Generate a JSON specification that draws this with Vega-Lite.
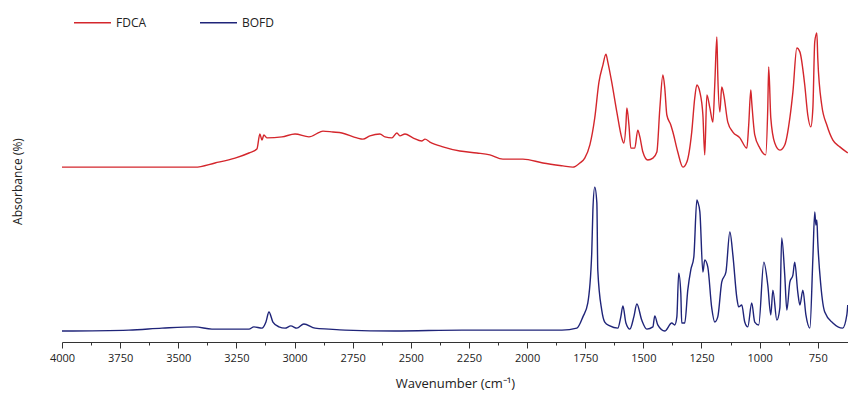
{
  "$schema": "https://vega.github.io/schema/vega-lite/v6.json",
  "autosize": "none",
  "width": 786,
  "height": 322,
  "padding": {"left": 62, "top": 20, "right": 0, "bottom": 53},
  "background": "white",
  "config": {
    "view": {"stroke": null},
    "font": "Open Sans",
    "axis": {"labelFont": "Open Sans", "titleFont": "Open Sans", "titleFontWeight": "normal", "labelColor": "#222", "titleColor": "#222", "domainColor": "#333", "tickColor": "#333", "grid": false},
    "legend": {"labelFont": "Open Sans"}
  },
  "data": {
    "values": [
      {"series": "FDCA", "wn": 4000, "a": 54.3},
      {"series": "FDCA", "wn": 3695, "a": 54.3},
      {"series": "FDCA", "wn": 3428, "a": 54.3},
      {"series": "FDCA", "wn": 3342, "a": 55.6},
      {"series": "FDCA", "wn": 3256, "a": 57.1},
      {"series": "FDCA", "wn": 3196, "a": 58.7},
      {"series": "FDCA", "wn": 3162, "a": 59.9},
      {"series": "FDCA", "wn": 3149, "a": 64.6},
      {"series": "FDCA", "wn": 3140, "a": 62.7},
      {"series": "FDCA", "wn": 3132, "a": 64.3},
      {"series": "FDCA", "wn": 3119, "a": 63.4},
      {"series": "FDCA", "wn": 3054, "a": 63.7},
      {"series": "FDCA", "wn": 2998, "a": 64.6},
      {"series": "FDCA", "wn": 2938, "a": 63.7},
      {"series": "FDCA", "wn": 2891, "a": 65.2},
      {"series": "FDCA", "wn": 2878, "a": 65.5},
      {"series": "FDCA", "wn": 2835, "a": 65.2},
      {"series": "FDCA", "wn": 2796, "a": 64.9},
      {"series": "FDCA", "wn": 2732, "a": 63.4},
      {"series": "FDCA", "wn": 2706, "a": 63.0},
      {"series": "FDCA", "wn": 2676, "a": 64.0},
      {"series": "FDCA", "wn": 2633, "a": 64.6},
      {"series": "FDCA", "wn": 2611, "a": 63.7},
      {"series": "FDCA", "wn": 2581, "a": 63.4},
      {"series": "FDCA", "wn": 2560, "a": 64.9},
      {"series": "FDCA", "wn": 2547, "a": 64.0},
      {"series": "FDCA", "wn": 2525, "a": 64.6},
      {"series": "FDCA", "wn": 2491, "a": 63.4},
      {"series": "FDCA", "wn": 2452, "a": 62.4},
      {"series": "FDCA", "wn": 2439, "a": 63.0},
      {"series": "FDCA", "wn": 2418, "a": 62.1},
      {"series": "FDCA", "wn": 2362, "a": 60.6},
      {"series": "FDCA", "wn": 2289, "a": 59.3},
      {"series": "FDCA", "wn": 2216, "a": 58.7},
      {"series": "FDCA", "wn": 2160, "a": 58.1},
      {"series": "FDCA", "wn": 2104, "a": 56.8},
      {"series": "FDCA", "wn": 2018, "a": 56.8},
      {"series": "FDCA", "wn": 1932, "a": 55.6},
      {"series": "FDCA", "wn": 1846, "a": 54.7},
      {"series": "FDCA", "wn": 1803, "a": 54.3},
      {"series": "FDCA", "wn": 1773, "a": 55.6},
      {"series": "FDCA", "wn": 1752, "a": 57.1},
      {"series": "FDCA", "wn": 1730, "a": 61.2},
      {"series": "FDCA", "wn": 1709, "a": 69.6},
      {"series": "FDCA", "wn": 1691, "a": 80.7},
      {"series": "FDCA", "wn": 1674, "a": 86.0},
      {"series": "FDCA", "wn": 1661, "a": 89.4},
      {"series": "FDCA", "wn": 1653, "a": 87.0},
      {"series": "FDCA", "wn": 1636, "a": 80.7},
      {"series": "FDCA", "wn": 1614, "a": 71.4},
      {"series": "FDCA", "wn": 1593, "a": 63.4},
      {"series": "FDCA", "wn": 1584, "a": 61.8},
      {"series": "FDCA", "wn": 1575, "a": 67.4},
      {"series": "FDCA", "wn": 1571, "a": 72.7},
      {"series": "FDCA", "wn": 1562, "a": 67.4},
      {"series": "FDCA", "wn": 1554, "a": 60.2},
      {"series": "FDCA", "wn": 1537, "a": 60.2},
      {"series": "FDCA", "wn": 1524, "a": 65.8},
      {"series": "FDCA", "wn": 1515, "a": 63.7},
      {"series": "FDCA", "wn": 1502, "a": 59.0},
      {"series": "FDCA", "wn": 1481, "a": 56.5},
      {"series": "FDCA", "wn": 1459, "a": 57.1},
      {"series": "FDCA", "wn": 1442, "a": 59.0},
      {"series": "FDCA", "wn": 1429, "a": 72.7},
      {"series": "FDCA", "wn": 1416, "a": 82.9},
      {"series": "FDCA", "wn": 1408, "a": 78.9},
      {"series": "FDCA", "wn": 1399, "a": 70.5},
      {"series": "FDCA", "wn": 1382, "a": 67.4},
      {"series": "FDCA", "wn": 1373, "a": 65.2},
      {"series": "FDCA", "wn": 1352, "a": 59.0},
      {"series": "FDCA", "wn": 1330, "a": 54.3},
      {"series": "FDCA", "wn": 1313, "a": 55.9},
      {"series": "FDCA", "wn": 1292, "a": 65.2},
      {"series": "FDCA", "wn": 1279, "a": 75.8},
      {"series": "FDCA", "wn": 1270, "a": 79.8},
      {"series": "FDCA", "wn": 1257, "a": 77.6},
      {"series": "FDCA", "wn": 1244, "a": 70.5},
      {"series": "FDCA", "wn": 1236, "a": 58.1},
      {"series": "FDCA", "wn": 1227, "a": 76.7},
      {"series": "FDCA", "wn": 1214, "a": 72.7},
      {"series": "FDCA", "wn": 1201, "a": 68.3},
      {"series": "FDCA", "wn": 1193, "a": 79.8},
      {"series": "FDCA", "wn": 1184, "a": 94.7},
      {"series": "FDCA", "wn": 1180, "a": 82.9},
      {"series": "FDCA", "wn": 1171, "a": 71.4},
      {"series": "FDCA", "wn": 1163, "a": 79.2},
      {"series": "FDCA", "wn": 1154, "a": 76.7},
      {"series": "FDCA", "wn": 1137, "a": 68.3},
      {"series": "FDCA", "wn": 1115, "a": 65.2},
      {"series": "FDCA", "wn": 1085, "a": 63.4},
      {"series": "FDCA", "wn": 1055, "a": 60.2},
      {"series": "FDCA", "wn": 1047, "a": 67.4},
      {"series": "FDCA", "wn": 1038, "a": 78.3},
      {"series": "FDCA", "wn": 1034, "a": 74.5},
      {"series": "FDCA", "wn": 1021, "a": 64.3},
      {"series": "FDCA", "wn": 999, "a": 60.2},
      {"series": "FDCA", "wn": 974, "a": 58.1},
      {"series": "FDCA", "wn": 965, "a": 72.7},
      {"series": "FDCA", "wn": 961, "a": 85.4},
      {"series": "FDCA", "wn": 952, "a": 69.6},
      {"series": "FDCA", "wn": 935, "a": 61.8},
      {"series": "FDCA", "wn": 913, "a": 59.6},
      {"series": "FDCA", "wn": 892, "a": 61.2},
      {"series": "FDCA", "wn": 870, "a": 69.6},
      {"series": "FDCA", "wn": 857, "a": 77.6},
      {"series": "FDCA", "wn": 840, "a": 91.3},
      {"series": "FDCA", "wn": 827, "a": 90.1},
      {"series": "FDCA", "wn": 806, "a": 79.8},
      {"series": "FDCA", "wn": 793, "a": 70.5},
      {"series": "FDCA", "wn": 780, "a": 66.8},
      {"series": "FDCA", "wn": 771, "a": 72.7},
      {"series": "FDCA", "wn": 763, "a": 93.2},
      {"series": "FDCA", "wn": 754, "a": 96.0},
      {"series": "FDCA", "wn": 750, "a": 88.2},
      {"series": "FDCA", "wn": 733, "a": 73.6},
      {"series": "FDCA", "wn": 711, "a": 67.4},
      {"series": "FDCA", "wn": 685, "a": 62.7},
      {"series": "FDCA", "wn": 655, "a": 60.6},
      {"series": "FDCA", "wn": 621, "a": 58.7},

      {"series": "BOFD", "wn": 4000, "a": 3.4},
      {"series": "BOFD", "wn": 3712, "a": 3.7},
      {"series": "BOFD", "wn": 3570, "a": 4.3},
      {"series": "BOFD", "wn": 3428, "a": 4.7},
      {"series": "BOFD", "wn": 3355, "a": 4.0},
      {"series": "BOFD", "wn": 3196, "a": 4.0},
      {"series": "BOFD", "wn": 3175, "a": 4.7},
      {"series": "BOFD", "wn": 3140, "a": 4.3},
      {"series": "BOFD", "wn": 3123, "a": 6.2},
      {"series": "BOFD", "wn": 3110, "a": 9.3},
      {"series": "BOFD", "wn": 3093, "a": 6.2},
      {"series": "BOFD", "wn": 3067, "a": 4.7},
      {"series": "BOFD", "wn": 3041, "a": 4.3},
      {"series": "BOFD", "wn": 3016, "a": 5.0},
      {"series": "BOFD", "wn": 2990, "a": 4.3},
      {"series": "BOFD", "wn": 2960, "a": 5.6},
      {"series": "BOFD", "wn": 2912, "a": 4.3},
      {"series": "BOFD", "wn": 2852, "a": 4.0},
      {"series": "BOFD", "wn": 2783, "a": 3.7},
      {"series": "BOFD", "wn": 2568, "a": 3.4},
      {"series": "BOFD", "wn": 2280, "a": 3.7},
      {"series": "BOFD", "wn": 1850, "a": 3.7},
      {"series": "BOFD", "wn": 1786, "a": 4.3},
      {"series": "BOFD", "wn": 1760, "a": 7.8},
      {"series": "BOFD", "wn": 1739, "a": 12.1},
      {"series": "BOFD", "wn": 1722, "a": 27.6},
      {"series": "BOFD", "wn": 1717, "a": 41.0},
      {"series": "BOFD", "wn": 1709, "a": 48.1},
      {"series": "BOFD", "wn": 1700, "a": 43.2},
      {"series": "BOFD", "wn": 1696, "a": 22.4},
      {"series": "BOFD", "wn": 1679, "a": 9.9},
      {"series": "BOFD", "wn": 1666, "a": 6.2},
      {"series": "BOFD", "wn": 1644, "a": 5.0},
      {"series": "BOFD", "wn": 1610, "a": 4.3},
      {"series": "BOFD", "wn": 1597, "a": 7.8},
      {"series": "BOFD", "wn": 1588, "a": 11.2},
      {"series": "BOFD", "wn": 1575, "a": 5.9},
      {"series": "BOFD", "wn": 1558, "a": 4.0},
      {"series": "BOFD", "wn": 1541, "a": 7.8},
      {"series": "BOFD", "wn": 1528, "a": 11.8},
      {"series": "BOFD", "wn": 1507, "a": 6.8},
      {"series": "BOFD", "wn": 1485, "a": 4.0},
      {"series": "BOFD", "wn": 1459, "a": 4.7},
      {"series": "BOFD", "wn": 1451, "a": 8.1},
      {"series": "BOFD", "wn": 1438, "a": 5.3},
      {"series": "BOFD", "wn": 1408, "a": 3.4},
      {"series": "BOFD", "wn": 1378, "a": 5.9},
      {"series": "BOFD", "wn": 1365, "a": 5.3},
      {"series": "BOFD", "wn": 1356, "a": 7.8},
      {"series": "BOFD", "wn": 1348, "a": 21.4},
      {"series": "BOFD", "wn": 1339, "a": 15.2},
      {"series": "BOFD", "wn": 1335, "a": 5.9},
      {"series": "BOFD", "wn": 1322, "a": 5.9},
      {"series": "BOFD", "wn": 1309, "a": 16.1},
      {"series": "BOFD", "wn": 1296, "a": 22.4},
      {"series": "BOFD", "wn": 1283, "a": 26.4},
      {"series": "BOFD", "wn": 1270, "a": 44.1},
      {"series": "BOFD", "wn": 1266, "a": 43.5},
      {"series": "BOFD", "wn": 1257, "a": 40.4},
      {"series": "BOFD", "wn": 1244, "a": 21.7},
      {"series": "BOFD", "wn": 1236, "a": 25.5},
      {"series": "BOFD", "wn": 1223, "a": 23.3},
      {"series": "BOFD", "wn": 1206, "a": 10.6},
      {"series": "BOFD", "wn": 1193, "a": 6.2},
      {"series": "BOFD", "wn": 1180, "a": 7.8},
      {"series": "BOFD", "wn": 1163, "a": 18.6},
      {"series": "BOFD", "wn": 1145, "a": 21.7},
      {"series": "BOFD", "wn": 1128, "a": 34.2},
      {"series": "BOFD", "wn": 1115, "a": 27.0},
      {"series": "BOFD", "wn": 1098, "a": 13.7},
      {"series": "BOFD", "wn": 1090, "a": 10.9},
      {"series": "BOFD", "wn": 1077, "a": 11.5},
      {"series": "BOFD", "wn": 1064, "a": 6.2},
      {"series": "BOFD", "wn": 1051, "a": 4.7},
      {"series": "BOFD", "wn": 1034, "a": 12.1},
      {"series": "BOFD", "wn": 1021, "a": 6.2},
      {"series": "BOFD", "wn": 1004, "a": 5.3},
      {"series": "BOFD", "wn": 982, "a": 24.8},
      {"series": "BOFD", "wn": 965, "a": 17.7},
      {"series": "BOFD", "wn": 952, "a": 8.4},
      {"series": "BOFD", "wn": 943, "a": 16.1},
      {"series": "BOFD", "wn": 926, "a": 6.8},
      {"series": "BOFD", "wn": 913, "a": 10.6},
      {"series": "BOFD", "wn": 905, "a": 32.3},
      {"series": "BOFD", "wn": 892, "a": 20.8},
      {"series": "BOFD", "wn": 883, "a": 9.9},
      {"series": "BOFD", "wn": 870, "a": 18.6},
      {"series": "BOFD", "wn": 857, "a": 20.8},
      {"series": "BOFD", "wn": 849, "a": 24.8},
      {"series": "BOFD", "wn": 836, "a": 15.5},
      {"series": "BOFD", "wn": 827, "a": 11.5},
      {"series": "BOFD", "wn": 814, "a": 16.1},
      {"series": "BOFD", "wn": 801, "a": 8.4},
      {"series": "BOFD", "wn": 784, "a": 4.3},
      {"series": "BOFD", "wn": 771, "a": 26.1},
      {"series": "BOFD", "wn": 763, "a": 40.4},
      {"series": "BOFD", "wn": 758, "a": 36.3},
      {"series": "BOFD", "wn": 754, "a": 37.9},
      {"series": "BOFD", "wn": 750, "a": 31.1},
      {"series": "BOFD", "wn": 737, "a": 17.7},
      {"series": "BOFD", "wn": 720, "a": 9.3},
      {"series": "BOFD", "wn": 685, "a": 5.9},
      {"series": "BOFD", "wn": 643, "a": 4.3},
      {"series": "BOFD", "wn": 625, "a": 8.4},
      {"series": "BOFD", "wn": 621, "a": 11.5}
    ]
  },
  "encoding": {
    "y": {
      "field": "a", "type": "quantitative",
      "scale": {"domain": [0, 100], "nice": false, "zero": false},
      "axis": {"title": "Absorbance (%)", "domain": false, "ticks": false, "labels": false, "titleFontSize": 12, "titlePadding": 38}
    },
    "color": {
      "field": "series", "type": "nominal",
      "scale": {"domain": ["FDCA", "BOFD"], "range": ["#d4262c", "#1f2479"]},
      "legend": {
        "title": null, "orient": "none", "direction": "horizontal",
        "legendX": 11, "legendY": -17,
        "symbolType": "stroke", "symbolSize": 1369, "symbolStrokeWidth": 1.5,
        "labelFontSize": 12, "labelColor": "#222", "labelOffset": 4,
        "columnPadding": 50
      }
    }
  },
  "layer": [
    {
      "transform": [{"filter": "datum.series === 'FDCA'"}],
      "mark": {"type": "line", "strokeWidth": 1.4, "interpolate": "monotone", "clip": true},
      "encoding": {
        "x": {
          "field": "wn", "type": "quantitative",
          "scale": {"domain": [4000, 620], "nice": false, "zero": false},
          "axis": {
            "title": "Wavenumber (cm⁻¹)", "titleFontSize": 13, "titlePadding": 14,
            "values": [4000, 3750, 3500, 3250, 3000, 2750, 2500, 2250, 2000, 1750, 1500, 1250, 1000, 750],
            "format": "d",
            "labelFontSize": 11, "labelPadding": 4, "tickSize": 6, "labelFlush": false, "labelOverlap": false
          }
        }
      }
    },
    {
      "transform": [{"filter": "datum.series === 'BOFD'"}],
      "mark": {"type": "line", "strokeWidth": 1.4, "interpolate": "monotone", "clip": true},
      "encoding": {
        "x": {
          "field": "wn", "type": "quantitative",
          "axis": {
            "title": null, "labels": false, "domain": false, "tickSize": 3, "orient": "bottom",
            "values": [3875, 3625, 3375, 3125, 2875, 2625, 2375, 2125, 1875, 1625, 1375, 1125, 875]
          }
        }
      }
    }
  ],
  "resolve": {"axis": {"x": "independent"}}
}
